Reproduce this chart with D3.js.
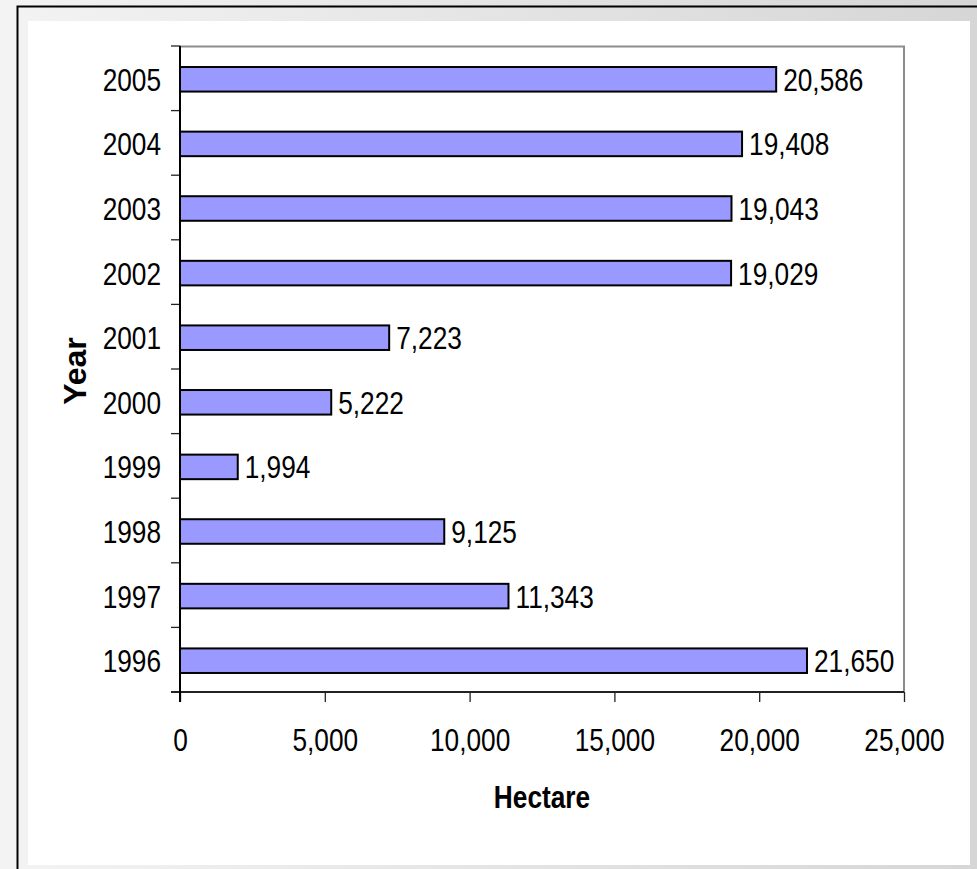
<!DOCTYPE html>
<html>
<head>
<meta charset="utf-8">
<script src="https://cdn.jsdelivr.net/npm/d3@7"></script>
<style>
  html, body { margin: 0; padding: 0; background: #f0f0f0; }
  svg { display: block; }
  text { font-family: "Liberation Sans", Arial, sans-serif; }
</style>
</head>
<body>
<div class="svg-wrapper"></div>
<script>
// values
const years = ["2005", "2004", "2003", "2002", "2001", "2000", "1999", "1998", "1997", "1996"];
const hectares = [20586, 19408, 19043, 19029, 7223, 5222, 1994, 9125, 11343, 21650];
const xTicks = [0, 5000, 10000, 15000, 20000, 25000];

const width = 977, height = 869;
const margin = ({top: 46, right: 73, bottom: 177, left: 180});
const innerWidth = width - margin.left - margin.right;
const innerHeight = height - margin.top - margin.bottom;
const NARROW = 0.82; // the original font is a narrow one

const svg = d3.select(".svg-wrapper")
  .append("svg")
  .attr("width", width)
  .attr("height", height);

// page background with the grey frame round the white panel
const grad = svg.append("defs").append("linearGradient")
  .attr("id", "bg-grad")
  .attr("x1", "0%").attr("x2", "100%");
grad.append("stop").attr("offset", "0%").attr("stop-color", "#f3f3f3");
grad.append("stop").attr("offset", "100%").attr("stop-color", "#d6d6d6");

svg.append("rect")
  .attr("width", width).attr("height", height)
  .attr("fill", "url(#bg-grad)");

svg.append("rect")
  .attr("x", 17.5).attr("y", 6.5)
  .attr("width", width).attr("height", height)
  .attr("fill", "none")
  .attr("stroke", "#000")
  .attr("stroke-width", 2);

svg.append("rect")
  .attr("x", 28).attr("y", 21)
  .attr("width", 942).attr("height", 844)
  .attr("fill", "#fff");

const data = years.map((y, i) => ({year: y, value: hectares[i]}));

const xScale = d3.scaleLinear()
  .domain([0, 25000])
  .range([0, innerWidth]);

const yScale = d3.scaleBand()
  .domain(years)
  .range([0, innerHeight])
  .paddingInner(0.62)
  .paddingOuter(0.31);

const g = svg.append("g")
  .attr("transform", `translate(${margin.left},${margin.top})`);

// grey top and right edge of the plot area
g.append("path")
  .attr("d", `M0,0.5H${innerWidth}V${innerHeight}`)
  .attr("fill", "none")
  .attr("stroke", "#8c8c8c")
  .attr("stroke-width", 2);

const fmt = d3.format(",");

// squeeze texts sideways, the glyphs keep their height
const narrow = function(sel){
  sel.each(function(){
    const w = this.getComputedTextLength();
    d3.select(this)
      .attr("textLength", w * NARROW)
      .attr("lengthAdjust", "spacingAndGlyphs");
  });
};

// y axis: ticks sit on the category boundaries
const yBounds = d3.range(years.length + 1).map(i => i * innerHeight / years.length);
g.selectAll(".ytick")
  .data(yBounds)
  .enter()
  .append("line")
    .attr("class", "ytick")
    .attr("x1", -9).attr("x2", 0)
    .attr("y1", d => d).attr("y2", d => d)
    .attr("stroke", "#222")
    .attr("stroke-width", 1.3);

g.selectAll(".ylabel")
  .data(years)
  .enter()
  .append("text")
    .attr("class", "ylabel")
    .attr("x", -19)
    .attr("y", d => yScale(d) + yScale.bandwidth() / 2 + 1)
    .attr("dy", "0.36em")
    .attr("text-anchor", "end")
    .style("font-size", "32px")
    .text(d => d)
    .call(narrow);

// x axis
const xAxis = d3.axisBottom(xScale)
  .tickValues(xTicks)
  .tickSize(10)
  .tickPadding(26)
  .tickFormat(fmt);

const xAxisG = g.append("g")
  .attr("transform", `translate(0,${innerHeight})`)
  .call(xAxis);
xAxisG.attr("font-family", null).attr("font-size", null);
xAxisG.select(".domain").remove();
xAxisG.selectAll(".tick line").attr("stroke", "#222").attr("stroke-width", 1.3);
xAxisG.selectAll(".tick text")
  .attr("fill", "#000")
  .style("font-size", "32px")
  .call(narrow);

g.append("line")
  .attr("x1", -9).attr("x2", innerWidth)
  .attr("y1", innerHeight).attr("y2", innerHeight)
  .attr("stroke", "#222")
  .attr("stroke-width", 2);

// bars
g.selectAll(".bar")
  .data(data)
  .enter()
  .append("rect")
    .attr("class", "bar")
    .attr("x", 0)
    .attr("y", d => yScale(d.year) + 1)
    .attr("width", d => xScale(d.value))
    .attr("height", yScale.bandwidth())
    .attr("fill", "#9999ff")
    .attr("stroke", "#000")
    .attr("stroke-width", 2);

g.selectAll(".value")
  .data(data)
  .enter()
  .append("text")
    .attr("class", "value")
    .attr("x", d => xScale(d.value) + 7)
    .attr("y", d => yScale(d.year) + yScale.bandwidth() / 2 + 1)
    .attr("dy", "0.36em")
    .style("font-size", "32px")
    .text(d => fmt(d.value))
    .call(narrow);

g.append("line")
  .attr("x1", 0).attr("x2", 0)
  .attr("y1", 0).attr("y2", innerHeight + 10)
  .attr("stroke", "#000")
  .attr("stroke-width", 2);

// axis titles
g.append("text")
  .attr("x", innerWidth / 2)
  .attr("y", innerHeight + 116)
  .attr("text-anchor", "middle")
  .style("font-size", "32px")
  .style("font-weight", "bold")
  .text("Hectare")
  .call(narrow);

g.append("text")
  .attr("transform", `translate(${86 - margin.left},${innerHeight / 2 + 2}) rotate(-90)`)
  .attr("text-anchor", "middle")
  .style("font-size", "32px")
  .style("font-weight", "bold")
  .text("Year");
</script>
</body>
</html>
